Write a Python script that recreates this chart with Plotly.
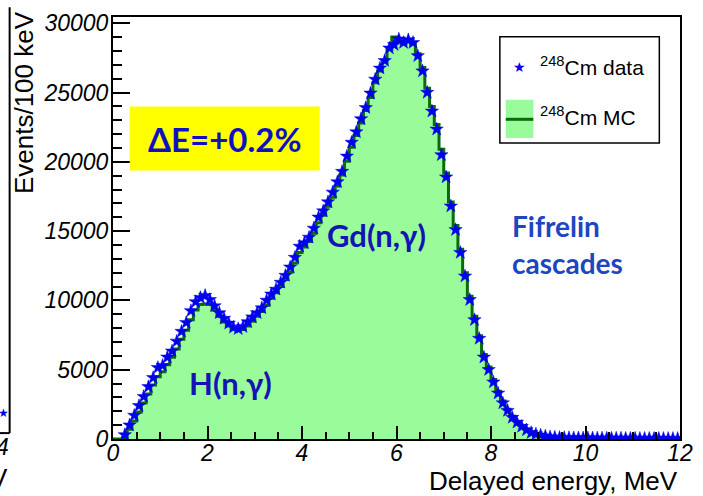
import numpy as np
import plotly.graph_objects as go

# ---- data (100 keV bins, 0-12 MeV) ----
bin_width = 0.1
bin_centers = np.round(np.arange(0.05, 12.0, 0.1), 2)

data_counts = [
    None, None, 300, 1000, 1700, 2400, 3060, 3770, 4420, 5150,
    5300, 5900, 6340, 7050, 7760, 8400, 9250, 9900, 10200, 10350,
    10050, 9600, 9100, 8700, 8350, 8050, 7950, 8100, 8450, 8800,
    9100, 9450, 10000, 10450, 10800, 11300, 11800, 12400, 13100, 13900,
    14150, 14550, 15200, 16000, 16450, 17100, 17800, 18550, 19300, 20400,
    21400, 22150, 23100, 23900, 24950, 25950, 26750, 27300, 28200, 28450,
    28850, 28600, 28800, 28600, 27650, 26550, 25000, 23650, 22350, 20500,
    18900, 16800, 15100, 13450, 11750, 10050, 8600, 7250, 5900, 5000,
    4100, 3300, 2600, 2050, 1550, 1200, 900, 650, 450, 350,
    270, 200, 150, 120, 100, 90, 85, 80, 75, 70,
    70, 65, 60, 60, 55, 55, 50, 50, 45, 45,
    45, 40, 40, 40, 35, 35, 35, 30, 30, 30,
]

mc_counts = [
    0, 0, 100, 700, 1300, 1950, 2600, 3250, 3900, 4500,
    4850, 5350, 5900, 6500, 7200, 7850, 8600, 9300, 9700, 9750,
    9700, 9300, 8850, 8450, 8150, 7900, 7850, 7900, 8150, 8500,
    8850, 9200, 9650, 10150, 10550, 11000, 11500, 12050, 12700, 13450,
    13850, 14250, 14850, 15600, 16150, 16800, 17450, 18250, 19050, 20050,
    21050, 21900, 22800, 23700, 24650, 25700, 26550, 27200, 28100, 29000,
    28700, 28500, 28650, 28500, 27800, 26800, 25300, 24000, 22700, 20900,
    19200, 17100, 15400, 13700, 12000, 10300, 8850, 7450, 6100, 5200,
    4300, 3450, 2750, 2150, 1650, 1250, 950, 700, 500, 370,
    280, 200, 150, 110, 90, 80, 75, 70, 65, 60,
    55, 55, 50, 50, 45, 45, 40, 40, 40, 35,
    35, 35, 30, 30, 30, 25, 25, 25, 20, 20,
]

x_ticks = [0, 2, 4, 6, 8, 10, 12]
y_ticks = [0, 5000, 10000, 15000, 20000, 25000, 30000]

# ---- geometry helpers (pixels -> paper) ----
W, H = 703, 496
L, R, T, B = 113, 14, 10, 57
PW, PH = W - L - R, H - T - B


def px(x):
    return (x - L) / PW


def py(y):
    return (H - B - y) / PH


# step histogram: left edges + final right edge
edges = np.append(bin_centers - bin_width / 2, bin_centers[-1] + bin_width / 2)
mc_step = list(mc_counts) + [mc_counts[-1]]

FILL = "#99FB99"
LINE = "#0B6A0B"
STAR = "#0000F0"
TXT = "#1414B4"

fig = go.Figure()
fig.add_trace(go.Scatter(
    x=edges, y=mc_step, mode="lines", line=dict(shape="hv", color=LINE, width=3),
    fill="tozeroy", fillcolor=FILL, showlegend=False, hoverinfo="skip",
))
fig.add_trace(go.Scatter(
    x=bin_centers, y=data_counts, mode="markers",
    marker=dict(symbol="star", size=10, color=STAR, line=dict(color=STAR, width=0.5)),
    showlegend=False,
))

tickfont = dict(family="Liberation Sans, Arial, sans-serif", size=23, color="black")

fig.update_xaxes(
    range=[0, 12], tickvals=x_ticks, ticktext=[f"<i>{v}</i>" for v in x_ticks],
    ticks="inside", ticklen=13, tickwidth=2, tickcolor="black",
    minor=dict(dtick=0.5, ticks="inside", ticklen=7, tickwidth=2, tickcolor="black"),
    showline=True, linecolor="black", linewidth=2, mirror=True,
    showgrid=False, zeroline=False, tickfont=tickfont, ticklabelstandoff=-8,
)
fig.update_yaxes(
    range=[0, 30450], tickvals=y_ticks, ticktext=[f"<i>{v}</i>" for v in y_ticks],
    ticks="inside", ticklen=17, tickwidth=2, tickcolor="black",
    minor=dict(dtick=1000, ticks="inside", ticklen=9, tickwidth=2, tickcolor="black"),
    showline=True, linecolor="black", linewidth=2, mirror=True,
    showgrid=False, zeroline=False, tickfont=tickfont, ticklabelstandoff=-2,
)

shapes = []
ann = []
axfont = dict(family="Liberation Sans, Arial, sans-serif", size=26, color="black")

# axis titles
ann.append(dict(text="Delayed energy, MeV", xref="paper", yref="paper", x=px(689), y=py(482),
                xanchor="right", yanchor="middle", showarrow=False, font=axfont))
ann.append(dict(text="Events/100 keV", xref="paper", yref="paper", x=px(22), y=py(2),
                xanchor="center", yanchor="top", textangle=-90, showarrow=False, font=axfont))

# yellow label box
shapes.append(dict(type="rect", xref="paper", yref="paper", x0=px(130), x1=px(323), y0=py(166), y1=py(101),
                   fillcolor="#FFFF00", line=dict(width=0), layer="above"))
ann.append(dict(text="<b>ΔE=+0.2%</b>", xref="paper", yref="paper", x=px(226), y=py(134),
                xanchor="center", yanchor="middle", showarrow=False,
                font=dict(family="Lato, Open Sans, sans-serif", size=33, color="#1010C0")))

lblfont = dict(family="Lato, Open Sans, sans-serif", size=31, color=TXT)
ann.append(dict(text="<b>Gd(n,γ)</b>", xref="paper", yref="paper", x=px(381), y=py(232),
                xanchor="center", yanchor="middle", showarrow=False, font=lblfont))
ann.append(dict(text="<b>H(n,γ)</b>", xref="paper", yref="paper", x=px(232), y=py(382),
                xanchor="center", yanchor="middle", showarrow=False, font=lblfont))
fifont = dict(family="Lato, Open Sans, sans-serif", size=28, color="#1C46C2")
ann.append(dict(text="<b>Fifrelin</b>", xref="paper", yref="paper", x=px(516), y=py(222),
                xanchor="left", yanchor="middle", showarrow=False, font=fifont))
ann.append(dict(text="<b>cascades</b>", xref="paper", yref="paper", x=px(516), y=py(260),
                xanchor="left", yanchor="middle", showarrow=False, font=fifont))

# legend box
shapes.append(dict(type="rect", xref="paper", yref="paper", x0=px(506), x1=px(668), y0=py(138), y1=py(30),
                   fillcolor="white", line=dict(color="black", width=1.5), layer="above"))
shapes.append(dict(type="rect", xref="paper", yref="paper", x0=px(512), x1=px(540), y0=py(133), y1=py(94),
                   fillcolor=FILL, line=dict(width=0), layer="above"))
shapes.append(dict(type="line", xref="paper", yref="paper", x0=px(512), x1=px(540), y0=py(114), y1=py(114),
                   line=dict(color=LINE, width=3), layer="above"))
ann.append(dict(text="★", xref="paper", yref="paper", x=px(526), y=py(61), xanchor="center", yanchor="middle",
                showarrow=False, font=dict(family="DejaVu Sans", size=14, color=STAR)))
legfont = dict(family="Liberation Sans, Arial, sans-serif", size=21, color="black")
ann.append(dict(text="<sup>248</sup>Cm data", xref="paper", yref="paper", x=px(545), y=py(60),
                xanchor="left", yanchor="middle", showarrow=False, font=legfont))
ann.append(dict(text="<sup>248</sup>Cm MC", xref="paper", yref="paper", x=px(545), y=py(111),
                xanchor="left", yanchor="middle", showarrow=False, font=legfont))

# cropped neighbouring panel at far left
shapes.append(dict(type="line", xref="paper", yref="paper", x0=px(8), x1=px(8), y0=py(0), y1=py(433),
                   line=dict(color="black", width=2)))
shapes.append(dict(type="line", xref="paper", yref="paper", x0=px(-2), x1=px(8), y0=py(433), y1=py(433),
                   line=dict(color="black", width=2)))
ann.append(dict(text="★", xref="paper", yref="paper", x=px(2), y=py(413), xanchor="center", yanchor="middle",
                showarrow=False, font=dict(family="DejaVu Sans", size=12, color=STAR)))
ann.append(dict(text="<i>4</i>", xref="paper", yref="paper", x=px(9), y=py(447), xanchor="right", yanchor="middle",
                showarrow=False, font=dict(family="Liberation Sans", size=23, color="black")))
ann.append(dict(text="V", xref="paper", yref="paper", x=px(8), y=py(479), xanchor="right", yanchor="middle",
                showarrow=False, font=axfont))

fig.update_layout(
    width=W, height=H, margin=dict(l=L, r=R, t=T, b=B, pad=0),
    paper_bgcolor="white", plot_bgcolor="white",
    shapes=shapes, annotations=ann, showlegend=False,
)

fig.write_html("out.html")
